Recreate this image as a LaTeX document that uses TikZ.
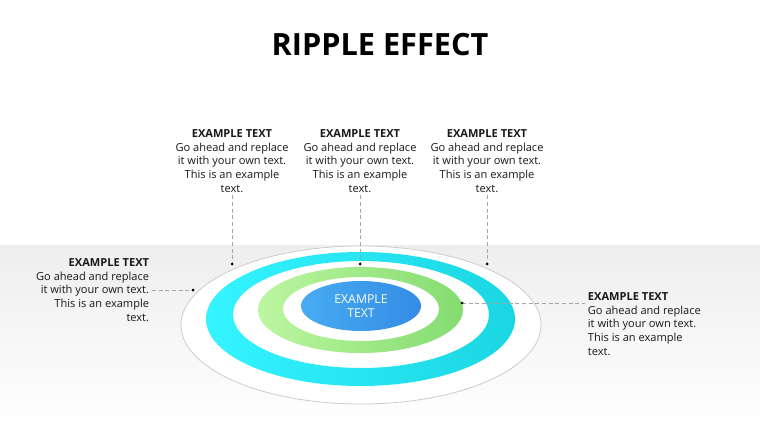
\documentclass[tikz,border=0pt]{standalone}
\usepackage{fontspec}
\setmainfont{Open Sans}
\usepackage{xcolor}
\usetikzlibrary{positioning,shapes.geometric}
\definecolor{cyanL}{RGB}{52,244,255}
\definecolor{cyanR}{RGB}{26,214,226}
\definecolor{greenL}{RGB}{188,246,160}
\definecolor{greenR}{RGB}{132,220,112}
\definecolor{coreL}{RGB}{72,172,242}
\definecolor{coreR}{RGB}{52,140,228}
\definecolor{floorgray}{RGB}{238,238,238}
\definecolor{inkgray}{RGB}{25,25,25}

\begin{document}
\begin{tikzpicture}[x=0.75pt, y=-0.75pt,
  every node/.style={font=\fontsize{8.3}{10.3}\selectfont, text=inkgray},
  note/.style={align=center, inner sep=2pt},
  title/.style={font=\fontsize{23}{26}\selectfont\bfseries, text=black},
  core/.style={ellipse, minimum width=90pt, minimum height=37.5pt, inner sep=0pt,
               left color=coreL, right color=coreR, align=center,
               text=white, font=\fontsize{9.2}{11}\selectfont},
  lead/.style={densely dashed, gray!70, line width=0.4pt},
  dot/.style={fill=black}
]
  \useasboundingbox (0,0) rectangle (760,428);
  % floor
  \fill[top color=floorgray, bottom color=white] (0,245) rectangle (760,428);
  \node[title] (head) at (380,45) {RIPPLE EFFECT};

  % plate and rings
  \filldraw[fill=white, draw=gray!40, line width=0.6pt] (361,325) ellipse (180 and 79);
  \path[left color=cyanL, right color=cyanR, even odd rule]
    (360.5,319) ellipse (154.5 and 67) (361,314.5) ellipse (128 and 53.5);
  \path[left color=greenL, right color=greenR, even odd rule]
    (360.5,310) ellipse (102.5 and 43) (361,309) ellipse (78 and 32);
  \node[core] (c) at (361,306) {EXAMPLE\\TEXT};

  % labels
  \node[note] (t1) at (232,161) {\textbf{EXAMPLE TEXT}\\Go ahead and replace\\it with your own text.\\This is an example\\text.};
  \node[note] (t2) at (360,161) {\textbf{EXAMPLE TEXT}\\Go ahead and replace\\it with your own text.\\This is an example\\text.};
  \node[note] (t3) at (487,161) {\textbf{EXAMPLE TEXT}\\Go ahead and replace\\it with your own text.\\This is an example\\text.};
  \node[note, align=right, anchor=east] (t4) at (152,290) {\textbf{EXAMPLE TEXT}\\Go ahead and replace\\it with your own text.\\This is an example\\text.};
  \node[note, align=left, anchor=west] (t5) at (585,324) {\textbf{EXAMPLE TEXT}\\Go ahead and replace\\it with your own text.\\This is an example\\text.};

  \coordinate (d1) at (232,264);
  \coordinate (d2) at (360,264);
  \coordinate (d3) at (487,264);
  \coordinate (d4) at (193,290);
  \coordinate (d5) at (462,303);

  \draw[lead] (t1.south) -- (d1);
  \draw[lead] (t2.south) -- (d2);
  \draw[lead] (t3.south) -- (d3);
  \draw[lead] (t4.east) -- (d4);
  \draw[lead] (d5) -- (d5 -| t5.west);
  \foreach \d in {d1,d2,d3,d4,d5}
    \fill[dot] (\d) circle (1.5);
\end{tikzpicture}
\end{document}
